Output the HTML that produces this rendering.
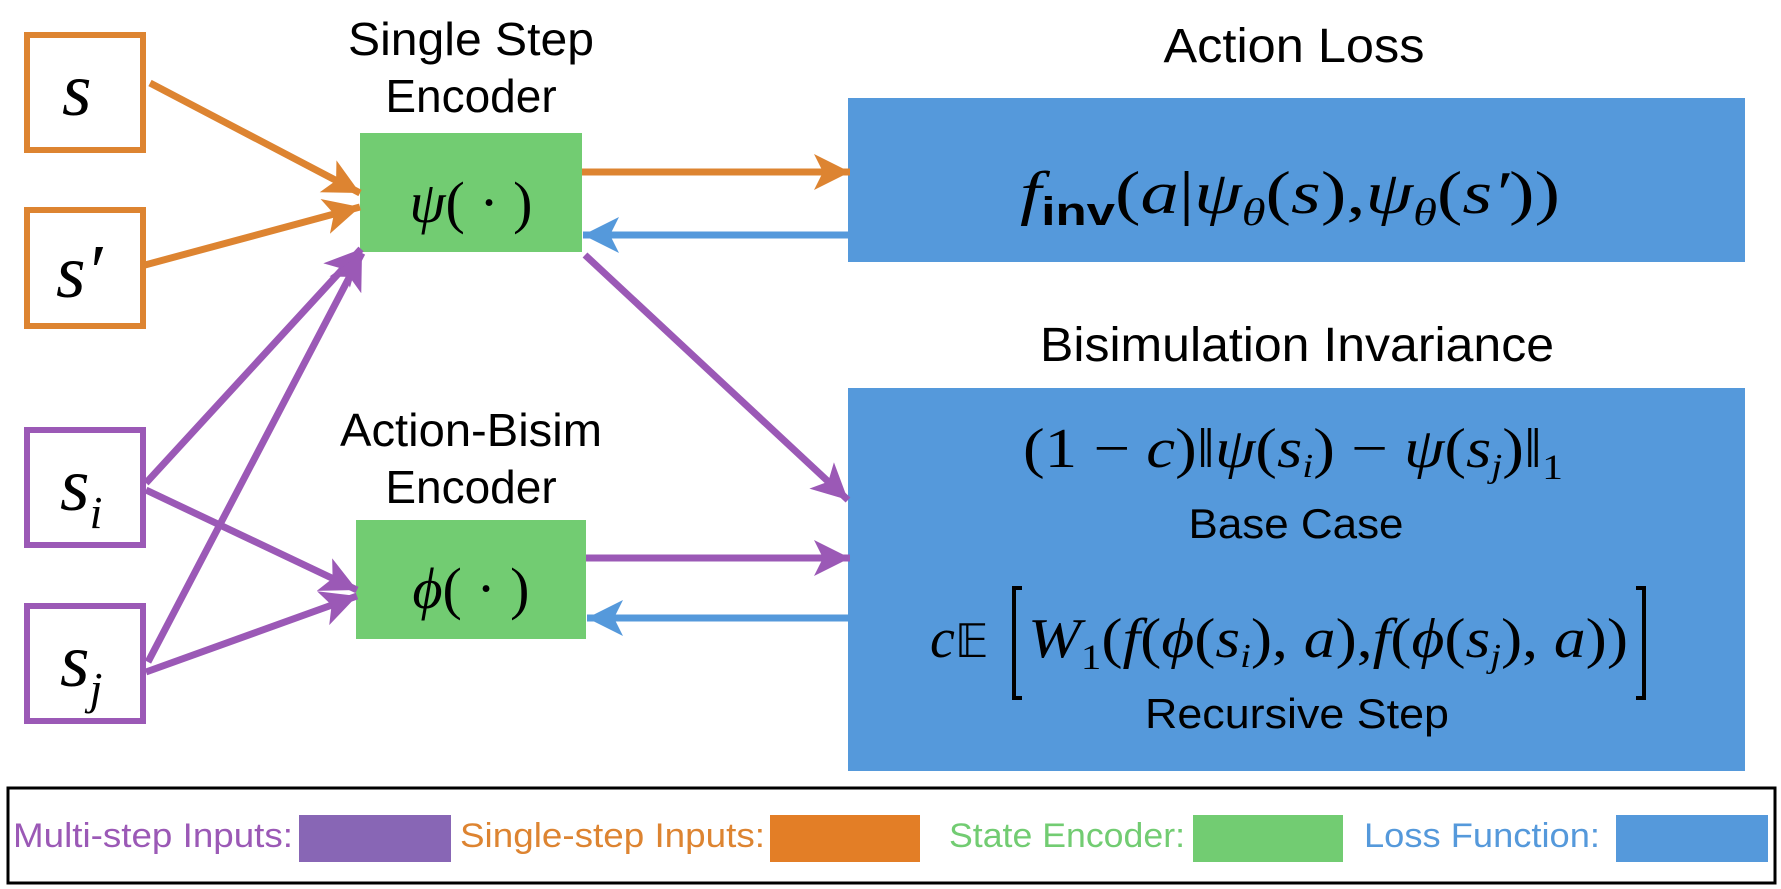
<!DOCTYPE html>
<html><head><meta charset="utf-8"><style>
html,body{margin:0;padding:0;background:#fff;}
svg{display:block;}
.t{font-family:"Liberation Sans",sans-serif;fill:#000;}
.m{font-family:"Liberation Serif","DejaVu Serif",serif;font-style:italic;fill:#000;}
.r{font-style:normal;}
</style></head><body>
<svg width="1781" height="889" viewBox="0 0 1781 889" xmlns="http://www.w3.org/2000/svg">
<defs>
<marker id="ho" markerUnits="userSpaceOnUse" markerWidth="40" markerHeight="40" refX="36" refY="18" orient="auto"><path d="M0,0 L36,18 L0,36 L9,18 Z" fill="#DD8431"/></marker>
<marker id="hp" markerUnits="userSpaceOnUse" markerWidth="40" markerHeight="40" refX="36" refY="18" orient="auto"><path d="M0,0 L36,18 L0,36 L9,18 Z" fill="#9B59B6"/></marker>
<marker id="hb" markerUnits="userSpaceOnUse" markerWidth="40" markerHeight="40" refX="36" refY="18" orient="auto"><path d="M0,0 L36,18 L0,36 L9,18 Z" fill="#5599DB"/></marker>
</defs>

<rect x="27" y="35" width="116" height="115" fill="#fff" stroke="#DD8431" stroke-width="6"/>
<rect x="27" y="210" width="116" height="116" fill="#fff" stroke="#DD8431" stroke-width="6"/>
<rect x="27" y="430" width="116" height="115" fill="#fff" stroke="#9B59B6" stroke-width="6"/>
<rect x="27" y="606" width="116" height="115" fill="#fff" stroke="#9B59B6" stroke-width="6"/>
<text class="m" x="62" y="115" font-size="76">s</text>
<text class="m" x="56" y="297" font-size="76">s′</text>
<text class="m" x="60" y="510" font-size="76">s<tspan font-size="46" dy="18">i</tspan></text>
<text class="m" x="60" y="686" font-size="76">s<tspan font-size="46" dy="18">j</tspan></text>

<rect x="360" y="133" width="222" height="119" fill="#72CC72"/>
<rect x="356" y="520" width="230" height="119" fill="#72CC72"/>
<text class="m" x="471" y="222" font-size="58" text-anchor="middle">ψ<tspan class="r">( · )</tspan></text>
<text class="m" x="471" y="608" font-size="58" text-anchor="middle">ϕ<tspan class="r">( · )</tspan></text>

<text class="t" x="471" y="55" font-size="46" text-anchor="middle" textLength="246" lengthAdjust="spacingAndGlyphs">Single Step</text>
<text class="t" x="471" y="112" font-size="46" text-anchor="middle">Encoder</text>
<text class="t" x="471" y="446" font-size="46" text-anchor="middle" textLength="262" lengthAdjust="spacingAndGlyphs">Action-Bisim</text>
<text class="t" x="471" y="503" font-size="46" text-anchor="middle">Encoder</text>

<rect x="848" y="98" width="897" height="164" fill="#5599DB"/>
<rect x="848" y="388" width="897" height="383" fill="#5599DB"/>
<text class="t" x="1294" y="62" font-size="48" text-anchor="middle" textLength="261" lengthAdjust="spacingAndGlyphs">Action Loss</text>
<text class="t" x="1297" y="361" font-size="48" text-anchor="middle" textLength="514" lengthAdjust="spacingAndGlyphs">Bisimulation Invariance</text>

<text class="m" x="1020" y="213" font-size="60" textLength="540" lengthAdjust="spacingAndGlyphs">f<tspan font-family="Liberation Sans" font-weight="bold" font-style="normal" font-size="40" dy="12">inv</tspan><tspan dy="-12" class="r">(</tspan>a<tspan class="r">|</tspan>ψ<tspan font-size="38" dy="12">θ</tspan><tspan dy="-12" class="r">(</tspan>s<tspan class="r">),</tspan>ψ<tspan font-size="38" dy="12">θ</tspan><tspan dy="-12" class="r">(</tspan>s′<tspan class="r">))</tspan></text>

<text class="m" x="1023" y="467" font-size="56" textLength="540" lengthAdjust="spacingAndGlyphs"><tspan class="r">(1 − </tspan>c<tspan class="r">)‖</tspan>ψ<tspan class="r">(</tspan>s<tspan font-size="34" dy="10">i</tspan><tspan class="r" dy="-10">) − </tspan>ψ<tspan class="r">(</tspan>s<tspan font-size="34" dy="10">j</tspan><tspan class="r" dy="-10">)‖</tspan><tspan class="r" font-size="36" dy="12">1</tspan></text>
<text class="t" x="1296" y="538" font-size="42" text-anchor="middle" textLength="215" lengthAdjust="spacingAndGlyphs">Base Case</text>

<text class="m" x="930" y="657" font-size="56">c<tspan class="r" font-family="DejaVu Sans" font-size="46">𝔼</tspan></text>
<path d="M1022,588 L1014,588 L1014,698 L1022,698" fill="none" stroke="#000" stroke-width="4"/>
<path d="M1636,588 L1644,588 L1644,698 L1636,698" fill="none" stroke="#000" stroke-width="4"/>
<text class="m" x="1028" y="657" font-size="56" textLength="600" lengthAdjust="spacingAndGlyphs">W<tspan class="r" font-size="36" dy="12">1</tspan><tspan class="r" dy="-12">(</tspan>f<tspan class="r">(</tspan>ϕ<tspan class="r">(</tspan>s<tspan font-size="34" dy="10">i</tspan><tspan class="r" dy="-10">), </tspan>a<tspan class="r">),</tspan>f<tspan class="r">(</tspan>ϕ<tspan class="r">(</tspan>s<tspan font-size="34" dy="10">j</tspan><tspan class="r" dy="-10">), </tspan>a<tspan class="r">))</tspan></text>
<text class="t" x="1297" y="728" font-size="42" text-anchor="middle" textLength="304" lengthAdjust="spacingAndGlyphs">Recursive Step</text>

<g stroke-width="7" fill="none">
<line x1="150" y1="83" x2="360" y2="193" stroke="#DD8431" marker-end="url(#ho)"/>
<line x1="145" y1="265" x2="360" y2="207" stroke="#DD8431" marker-end="url(#ho)"/>
<line x1="582" y1="172" x2="850" y2="172" stroke="#DD8431" marker-end="url(#ho)"/>
<line x1="848" y1="235" x2="583" y2="235" stroke="#5599DB" marker-end="url(#hb)"/>
<line x1="585" y1="255" x2="848" y2="500" stroke="#9B59B6" marker-end="url(#hp)"/>
<line x1="146" y1="483" x2="361" y2="249" stroke="#9B59B6" marker-end="url(#hp)"/>
<line x1="148" y1="662" x2="362" y2="253" stroke="#9B59B6" marker-end="url(#hp)"/>
<line x1="146" y1="490" x2="357" y2="590" stroke="#9B59B6" marker-end="url(#hp)"/>
<line x1="146" y1="672" x2="357" y2="596" stroke="#9B59B6" marker-end="url(#hp)"/>
<line x1="586" y1="558" x2="850" y2="558" stroke="#9B59B6" marker-end="url(#hp)"/>
<line x1="848" y1="618" x2="587" y2="618" stroke="#5599DB" marker-end="url(#hb)"/>
</g>

<rect x="8" y="788" width="1767" height="95" fill="#fff" stroke="#000" stroke-width="3"/>
<text class="t" x="13" y="847" font-size="34" style="fill:#9B59B6" textLength="280" lengthAdjust="spacingAndGlyphs">Multi-step Inputs:</text>
<rect x="299" y="815" width="152" height="47" fill="#8866B5"/>
<text class="t" x="460" y="847" font-size="34" style="fill:#DD8431" textLength="305" lengthAdjust="spacingAndGlyphs">Single-step Inputs:</text>
<rect x="770" y="815" width="150" height="47" fill="#E37E26"/>
<text class="t" x="949" y="847" font-size="34" style="fill:#72CC72" textLength="236" lengthAdjust="spacingAndGlyphs">State Encoder:</text>
<rect x="1193" y="815" width="150" height="47" fill="#72CC72"/>
<text class="t" x="1364" y="847" font-size="34" style="fill:#5599DB" textLength="236" lengthAdjust="spacingAndGlyphs">Loss Function:</text>
<rect x="1616" y="815" width="152" height="47" fill="#5599DB"/>
</svg>
</body></html>
